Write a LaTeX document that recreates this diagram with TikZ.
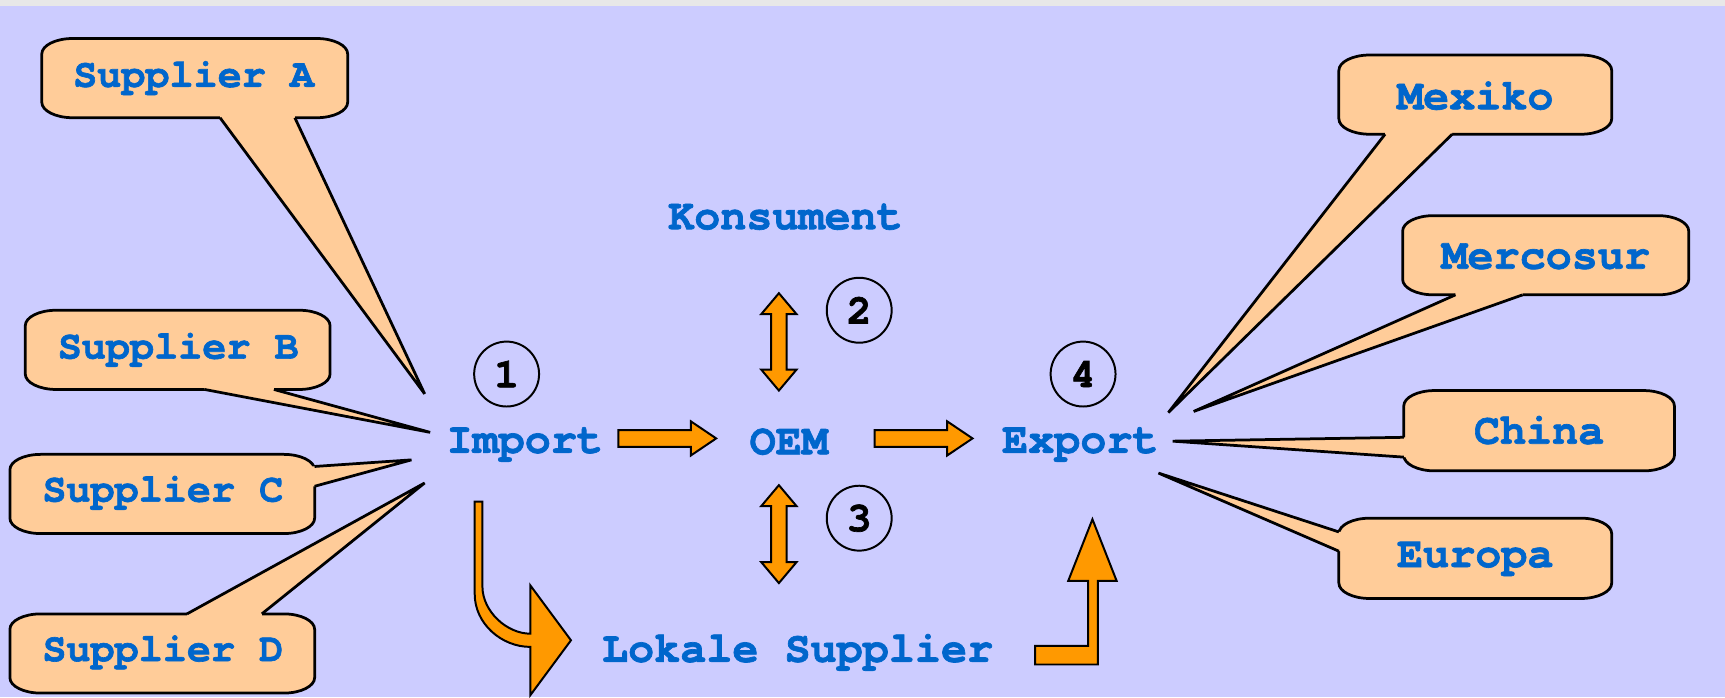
\documentclass[tikz,border=0pt]{standalone}
\usepackage{fontspec}
\newfontfamily\labelfont{TeX Gyre Cursor}[BoldFeatures={FakeBold=1.6}]
\usetikzlibrary{calc}
\definecolor{lavender}{HTML}{CCCCFF}
\definecolor{peach}{HTML}{FFCC99}
\definecolor{flowblue}{HTML}{0066CC}
\definecolor{amber}{HTML}{FF9900}
\definecolor{stripgray}{HTML}{E8E8E8}
\pgfdeclarelayer{back}
\pgfsetlayers{back,main}

% rounded label frame with elliptical corners: x1 y1 x2 y2
\newcommand\labelframe[4]{%
  \path[calloutbox] ({#1+28},#2) -- ({#3-28},#2)
    .. controls ({#3-12.5},#2) and (#3,{#2+6.3}) .. (#3,{#2+14})
    -- (#3,{#4-14})
    .. controls (#3,{#4-6.3}) and ({#3-12.5},#4) .. ({#3-28},#4)
    -- ({#1+28},#4)
    .. controls ({#1+12.5},#4) and (#1,{#4-6.3}) .. (#1,{#4-14})
    -- (#1,{#2+14})
    .. controls (#1,{#2+6.3}) and ({#1+12.5},#2) .. ({#1+28},#2) -- cycle;}

% pointer of a label frame: base point 1, base point 2, inward shift, tip
\newcommand\labeltail[7]{%
  \fill[tailfill] (#1,#2) -- (#7) -- (#3,#4) -- ({#3+#5},{#4+#6}) -- ({#1+#5},{#2+#6}) -- cycle;
  \draw[tailline] (#1,#2) -- (#7) -- (#3,#4);}

% horizontal block arrow between two named coordinates
\newcommand\blockright[2]{%
  \draw[blockarrow] ($(#1)+(0,-7.6)$) -- ($(#2)+(-23,-7.6)$) -- ($(#2)+(-23,-15.5)$)
    -- (#2) -- ($(#2)+(-23,15.5)$) -- ($(#2)+(-23,7.6)$) -- ($(#1)+(0,7.6)$) -- cycle;}

% vertical two-headed block arrow between two named coordinates
\newcommand\blockupdown[2]{%
  \draw[blockarrow] (#1) -- ($(#1)+(16,19)$) -- ($(#1)+(7,19)$) -- ($(#2)+(7,-19)$)
    -- ($(#2)+(16,-19)$) -- (#2) -- ($(#2)+(-16,-19)$) -- ($(#2)+(-7,-19)$)
    -- ($(#1)+(-7,19)$) -- ($(#1)+(-16,19)$) -- cycle;}

\begin{document}
\begin{tikzpicture}[x=0.5pt,y=-0.5pt,
  boxlabel/.style={text=flowblue, inner sep=0,
    font=\labelfont\bfseries\fontsize{18.25}{20}\selectfont},
  flowlabel/.style={text=flowblue, inner sep=0,
    font=\labelfont\bfseries\fontsize{19.75}{22}\selectfont},
  stepnum/.style={circle, draw=black, line width=0.9pt, minimum size=29.5pt,
    inner sep=0, font=\labelfont\bfseries\fontsize{19}{20}\selectfont},
  calloutbox/.style={fill=peach, draw=black, line width=1.25pt},
  tailfill/.style={fill=peach},
  tailline/.style={draw=black, line width=1.25pt, line join=miter},
  blockarrow/.style={fill=amber, draw=black, line width=0.9pt, line join=miter}]

\useasboundingbox (0,0) rectangle (1568,634);

% flow labels
\node[flowlabel] (konsument) at (714,197) {Konsument};
\node[flowlabel] (import)    at (477,404) {Import};
\node[flowlabel] (oem)       at (717,401.5) {OEM};
\node[flowlabel] (export)    at (982,404) {Export};
\node[flowlabel] (lokale)    at (725,593) {Lokale Supplier};

% supplier and market labels
\node[boxlabel]  (supA) at (176,71)  {Supplier A};
\node[boxlabel]  (supB) at (162,318) {Supplier B};
\node[boxlabel]  (supC) at (148,448) {Supplier C};
\node[boxlabel]  (supD) at (148,593) {Supplier D};
\node[flowlabel] (mexiko)   at (1341,87)  {Mexiko};
\node[flowlabel] (mercosur) at (1405,233) {Mercosur};
\node[flowlabel] (china)    at (1399,391) {China};
\node[flowlabel] (europa)   at (1341,508) {Europa};

% step numbers
\node[stepnum] (n1) at (460.5,340) {1};
\node[stepnum] (n2) at (781,282)   {2};
\node[stepnum] (n3) at (781,471)   {3};
\node[stepnum] (n4) at (984.5,340) {4};

% pointer tips next to Import and Export
\coordinate (tipA)  at (386,358);
\coordinate (tipB)  at (391,393);
\coordinate (tipC)  at (374,418);
\coordinate (tipD)  at (386,439);
\coordinate (tipMx) at (1062,375);
\coordinate (tipMc) at (1085,374);
\coordinate (tipCh) at (1066,401);
\coordinate (tipEu) at (1053,430);

% arrow end points
\coordinate (imp-out)  at (562,398.5);
\coordinate (oem-in)   at (651,398.5);
\coordinate (oem-out)  at (795,398.5);
\coordinate (exp-in)   at (884,398.5);
\coordinate (kon-tip)  at (708,266.5);
\coordinate (oem-top)  at (708,355);
\coordinate (oem-bot)  at (708,441);
\coordinate (lok-tip)  at (708,530);

\begin{pgfonlayer}{back}
  \fill[stripgray] (0,0) rectangle (1568,5.5);
  \fill[lavender] (0,5.5) rectangle (1568,634);

  % supplier frames
  \labelframe{38}{35}{316}{107}
  \labeltail{200}{107}{268}{107}{0}{-5}{tipA}
  \labelframe{23}{282}{300}{354}
  \labeltail{186}{354}{249}{354}{0}{-5}{tipB}
  \labelframe{9}{413}{286}{485}
  \labeltail{286}{424}{286}{442}{-5}{0}{tipC}
  \labelframe{9}{558}{286}{630}
  \labeltail{170}{558}{238}{558}{0}{5}{tipD}

  % market frames
  \labelframe{1217}{50}{1465}{122}
  \labeltail{1259}{122}{1320}{122}{0}{-5}{tipMx}
  \labelframe{1275}{196}{1535}{268}
  \labeltail{1323}{268}{1384}{268}{0}{-5}{tipMc}
  \labelframe{1276}{355}{1522}{428}
  \labeltail{1276}{397.5}{1276}{415.5}{5}{0}{tipCh}
  \labelframe{1217}{471}{1465}{544}
  \labeltail{1217}{483.5}{1217}{501}{5}{0}{tipEu}
\end{pgfonlayer}

% main flow
\blockright{imp-out}{oem-in}
\blockright{oem-out}{exp-in}
\blockupdown{kon-tip}{oem-top}
\blockupdown{oem-bot}{lok-tip}

% Import bending down to the local suppliers
\draw[blockarrow] (431.5,456) -- (431.5,540)
  .. controls (431.5,567) and (456,588) .. (482,588)
  -- (482,632) -- (519,582) -- (482,532) -- (482,576)
  .. controls (461,576) and (438.5,556) .. (438.5,533)
  -- (438.5,456) -- cycle;

% local suppliers feeding the export
\draw[blockarrow] (941,587) -- (989,587) -- (989,528) -- (971,528)
  -- (993,472) -- (1015,528) -- (998,528) -- (998,604) -- (941,604) -- cycle;

\end{tikzpicture}
\end{document}
